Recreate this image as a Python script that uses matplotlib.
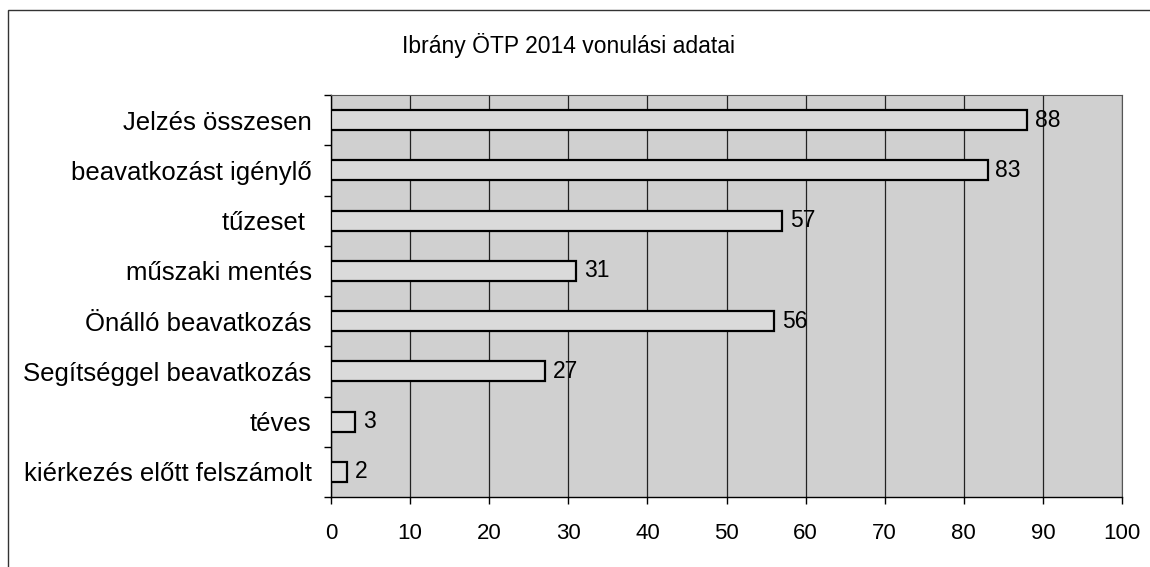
import matplotlib.pyplot as plt
from matplotlib.patches import Rectangle

plt.rcParams['font.family'] = ['Liberation Sans', 'DejaVu Sans']

# Data
categories = ['Jelzés összesen', 'beavatkozást igénylő', 'tűzeset ', 'műszaki mentés',
              'Önálló beavatkozás', 'Segítséggel beavatkozás', 'téves',
              'kiérkezés előtt felszámolt']
values = [88, 83, 57, 31, 56, 27, 3, 2]
x_ticks = [0, 10, 20, 30, 40, 50, 60, 70, 80, 90, 100]

fig = plt.figure(figsize=(11.5, 5.67), dpi=100)
ax = fig.add_axes([331 / 1150, 1 - 497 / 567, (1122 - 331) / 1150, (497 - 95) / 567])

# thin outer frame of the scanned chart
fig.patches.append(Rectangle((8 / 1150, -0.1), 1.2, (567 - 10) / 567 + 0.1,
                             transform=fig.transFigure, fill=False,
                             edgecolor='#333333', linewidth=1.0))

ax.set_facecolor('#d0d0d0')
pos = list(range(len(categories)))
ax.barh(pos, values, height=0.4, color='#dadada', edgecolor='black', linewidth=1.6, zorder=3)

for p, v in zip(pos, values):
    ax.text(v + 1.0, p, str(v), va='center', ha='left', fontsize=16.5, zorder=4)

ax.set_xlim(0, 100)
ax.set_ylim(len(categories) - 0.5, -0.5)
ax.set_xticks(x_ticks)
ax.set_xticklabels([str(t) for t in x_ticks], fontsize=16)
ax.set_yticks(pos)
ax.set_yticklabels(categories, fontsize=18.5)
ax.tick_params(axis='y', length=0, pad=14)
ax.set_yticks([p + 0.5 for p in range(-1, len(categories))], minor=True)
ax.tick_params(axis='y', which='minor', length=5, direction='out', width=1)
ax.tick_params(axis='x', length=5, direction='out', width=1, pad=14)

ax.xaxis.grid(True, color='#222222', linewidth=0.9)
ax.set_axisbelow(True)
for side in ['top', 'right']:
    ax.spines[side].set_color('#555555')
    ax.spines[side].set_linewidth(0.8)
for side in ['left', 'bottom']:
    ax.spines[side].set_color('black')
    ax.spines[side].set_linewidth(1.0)

fig.text(568 / 1150, 1 - 45 / 567, 'Ibrány ÖTP 2014 vonulási adatai',
         ha='center', va='center', fontsize=16.5)

fig.savefig('out.png', dpi=100)
